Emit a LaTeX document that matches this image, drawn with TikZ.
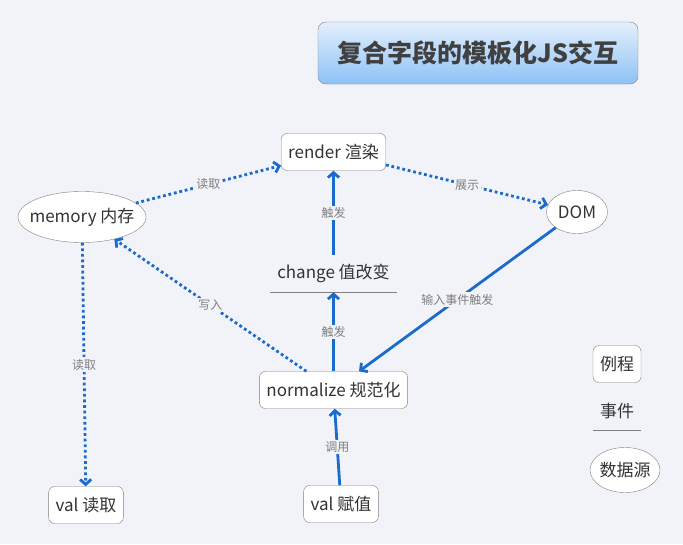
\documentclass[tikz,border=0pt]{standalone}
\usepackage{fontspec}
\setmainfont{Noto Sans CJK SC}
\usetikzlibrary{arrows.meta,shapes.geometric}
\definecolor{bgcol}{HTML}{F2F3F8}
\definecolor{linkblue}{HTML}{1A6BCC}
\definecolor{txtgray}{HTML}{333333}
\definecolor{lblgray}{HTML}{7F7F7F}
\definecolor{titletop}{HTML}{E3EFFC}
\definecolor{titlebot}{HTML}{8EC2F6}
\tikzset{
  routine/.style={draw=gray, fill=white, rounded corners=6pt, minimum height=37pt,
    inner xsep=7pt, text=txtgray, font=\fontsize{17}{20}\selectfont},
  source/.style={ellipse, draw=gray, fill=white, inner sep=-8pt, text=txtgray,
    font=\fontsize{17}{20}\selectfont},
  event/.style={minimum height=37pt, inner xsep=7pt, text=txtgray,
    font=\fontsize{17}{20}\selectfont},
  link/.style={draw=linkblue, line width=2.8pt, -{Straight Barb[length=5pt,width=11pt]}},
  dotlink/.style={link, dash pattern=on 2.8pt off 2.8pt},
  lbl/.style={fill=bgcol, text=lblgray, inner sep=1.5pt, font=\fontsize{12}{14}\selectfont}
}
\begin{document}
\begin{tikzpicture}[x=1pt, y=-1pt]
    \fill [bgcol] (0, 0) rectangle (683, 544);

    % title
    \node (title) at (478, 53) [draw=gray, rounded corners=8pt, top color=titletop,
      bottom color=titlebot, minimum width=320pt, minimum height=62pt,
      text=black!75, font=\fontsize{25}{30}\selectfont\bfseries] {复合字段的模板化JS交互};

    % nodes
    \node (render) at (333.5, 152) [routine] {render 渲染};
    \node (memory) at (82, 217) [source, minimum width=128pt, minimum height=51pt] {memory 内存};
    \node (dom) at (577, 212) [source, minimum width=61pt, minimum height=43pt] {DOM};
    \node (change) at (333.5, 273.5) [event] {change 值改变};
    \draw [gray, line width=0.8pt] (change.south west) -- (change.south east);
    \node (normalize) at (333.5, 390) [routine] {normalize 规范化};
    \node (valset) at (341, 504) [routine] {val 赋值};
    \node (valget) at (86, 505) [routine] {val 读取};

    % legend
    \node (legroutine) at (617, 364) [routine] {例程};
    \node (legevent) at (617, 411.5) [event] {事件};
    \draw [gray, line width=0.8pt] (legevent.south west) -- (legevent.south east);
    \node (legsource) at (625, 470) [source, minimum width=70pt, minimum height=45pt] {数据源};

    % links
    \draw [dotlink] (memory) -- node [lbl] {读取} (render);
    \draw [dotlink] (render) -- node [lbl] {展示} (dom);
    \draw [dotlink] (memory) -- node [lbl] {读取} (valget);
    \draw [dotlink] (normalize) -- node [lbl] {写入} (memory);
    \draw [link] (change) -- node [lbl] {触发} (render);
    \draw [link] (normalize) -- node [lbl] {触发} (change);
    \draw [link] (dom) -- node [lbl] {输入事件触发} (normalize);
    \draw [link] (valset) -- node [lbl] {调用} (normalize);
  \end{tikzpicture}
\end{document}
